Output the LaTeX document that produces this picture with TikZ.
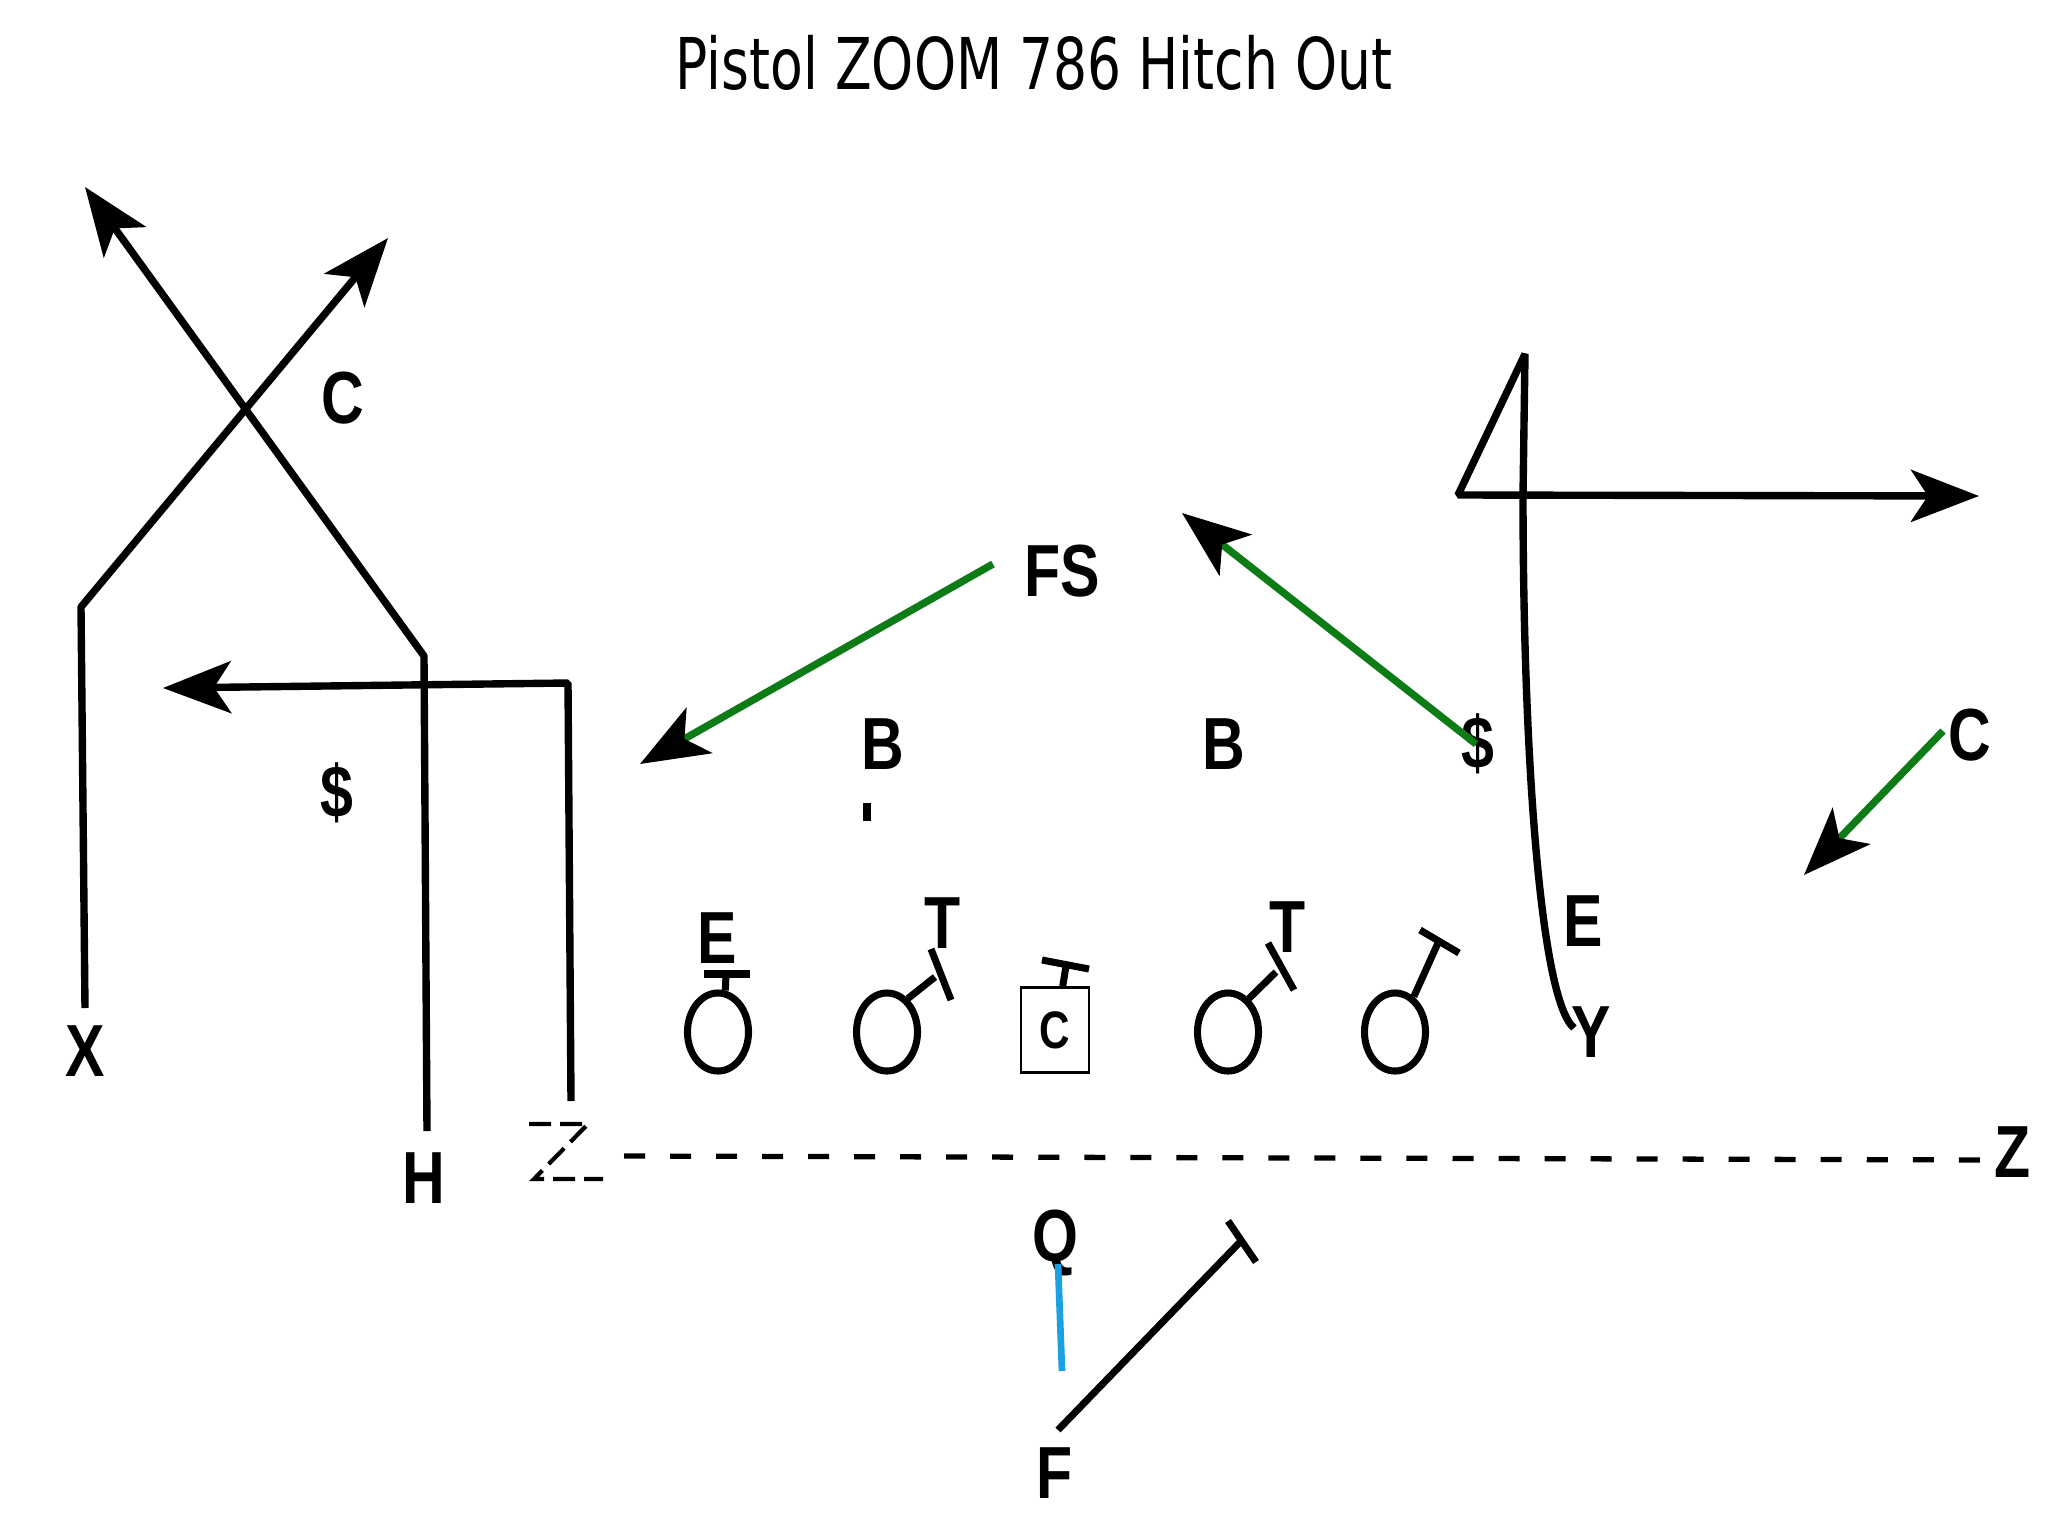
\documentclass[tikz,border=0pt]{standalone}
\usepackage{fontspec}
\usepackage{xcolor}
\usepackage{tikz}
\usetikzlibrary{arrows.meta,positioning,shapes.geometric}
\setmainfont{Liberation Sans}
\newfontfamily\labfont{Liberation Sans}[UprightFont={* Bold},FakeStretch=0.8]
\newfontfamily\titfont{DejaVu Sans}[FakeStretch=0.75]
\definecolor{zonegreen}{RGB}{14,124,22}
\definecolor{qbblue}{RGB}{27,161,226}
\tikzset{
  lab/.style={font=\labfont\fontsize{21}{24}\selectfont,inner sep=0pt},
  titletext/.style={font=\titfont\fontsize{20.3}{24}\selectfont,inner sep=0pt},
  route/.style={line width=2.1pt,draw=black,line join=bevel},
  head/.style={-{Stealth[length=0.68cm,width=0.52cm,inset=0.17cm]}},
  cover/.style={line width=2.1pt,draw=zonegreen,-{Stealth[length=0.68cm,width=0.52cm,inset=0.17cm,color=black]}},
  block/.style={line width=2pt,draw=black},
  motion/.style={line width=1.5pt,draw=black,dash pattern=on 0.21cm off 0.25cm},
  lineman/.style={ellipse,draw=black,line width=2pt,minimum width=0.61cm,minimum height=0.78cm,inner sep=0pt},
  centerbox/.style={rectangle,draw=black,line width=0.8pt,minimum width=0.68cm,minimum height=0.85cm,inner sep=0pt,
    font=\labfont\fontsize{15}{18}\selectfont}
}

\begin{document}
\begin{tikzpicture}[x=0.01cm,y=-0.01cm]
  \fill[white] (0,0) rectangle (2048,1536);
  \useasboundingbox (0,0) rectangle (2048,1536);
  \node[titletext,anchor=base] (title) at (1034,89) {Pistol ZOOM 786 Hitch Out};

  \foreach \n/\x/\y/\lab in {lX/85/1051/X,lC1/343/398/C,lH/424/1178/H,lS1/337/793/\$,
      lFS/1062/571/FS,lB1/883/744/B,lB2/1224/744/B,lS2/1478/744/\$,lE2/1583/921/E,
      lY/1591/1032/Y,lC2/1970/735/C,lZ/2013/1152/Z,lE1/717/938/E,lT1/943/923/T,
      lT2/1288/927/T,lQ/1055/1243/Q,lF/1055/1473/F}{
    \node[lab] (\n) at (\x,\y) {\lab};
  }

  \foreach \n/\x in {le/718,lg/887,rg/1228,rt/1395}{
    \node[lineman] (\n) at (\x,1032) {};
  }
  \node[centerbox] (cb) at (1055,1030) {C};

  \foreach \n/\a/\sx/\sy/\bx/\by/\cx/\cy in {le/80/726/974/704/974/750/974,
      lg/58/935/977/931/949/951/1000,cb/80/1066/966/1042/960/1089/969,
      rg/58/1276/972/1268/943/1294/990,rt/62/1438/943/1420/930/1459/953}{
    \draw[block] (\n.\a) -- (\sx,\sy);
    \draw[block] (\bx,\by) -- (\cx,\cy);
  }

  \coordinate (xa) at (85,1008);
  \coordinate (xb) at (81,607);
  \coordinate (xc) at (388,238);
  \coordinate (ha) at (427,1131);
  \coordinate (hb) at (424,656);
  \coordinate (hc) at (85,187);
  \coordinate (za) at (571,1101);
  \coordinate (zb) at (568,683);
  \coordinate (zc) at (163,688);
  \coordinate (ya) at (1574,1028);
  \coordinate (yb) at (1523,495);
  \coordinate (yc) at (1525,354);
  \coordinate (yd) at (1458,495);
  \coordinate (ye) at (1979,496);

  \draw[route,head] (xa) -- (xb) -- (xc);
  \draw[route,head] (ha) -- (hb) -- (hc);
  \draw[route,head] (za) -- (zb) -- (zc);
  \draw[route,head] (ya) .. controls (1540,1000) and (1523,750) .. (yb) -- (yc) -- (yd) -- (ye);

  \coordinate (fsa) at (993,564);
  \coordinate (fsb) at (640,764);
  \coordinate (ssa) at (1476,744);
  \coordinate (ssb) at (1182,513);
  \coordinate (csa) at (1943,731);
  \coordinate (csb) at (1804,875);
  \draw[cover] (fsa) -- (fsb);
  \draw[cover] (ssa) -- (ssb);
  \draw[cover] (csa) -- (csb);

  \coordinate (mota) at (624,1156);
  \coordinate (motb) at (1998,1160);
  \draw[motion] (mota) -- (motb);
  \draw[motion,line width=1.2pt,dash pattern=on 0.22cm off 0.09cm] (529,1124) -- (588,1124) -- (534,1179) -- (603,1179);

  \coordinate (qa) at (1058,1264);
  \coordinate (qb) at (1062,1371);
  \draw[line width=1.9pt,draw=qbblue] (qa) -- (qb);

  \coordinate (fa) at (1058,1430);
  \coordinate (fb) at (1241,1241);
  \draw[block] (fa) -- (fb);
  \draw[block] (1228,1221) -- (1256,1262);

  \fill (863,803) rectangle (871,821);
\end{tikzpicture}
\end{document}
